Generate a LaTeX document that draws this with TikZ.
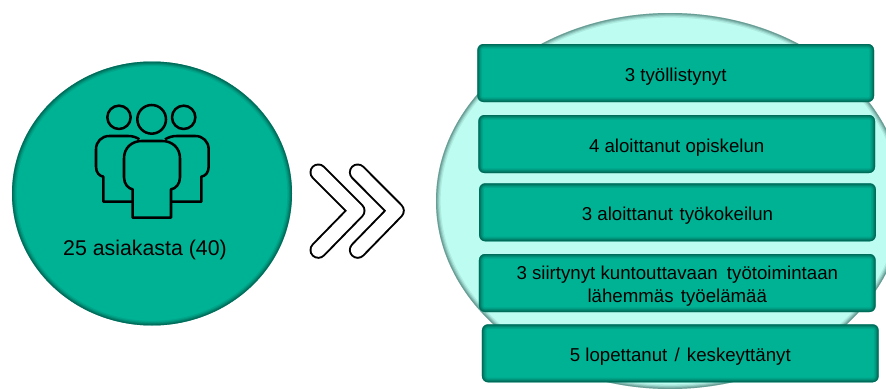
\documentclass[tikz,border=0pt]{standalone}
\usepackage{fontspec}
\setmainfont{Liberation Sans}
\usetikzlibrary{shapes.geometric}
\definecolor{teal1}{HTML}{00B294}
\definecolor{tealedge}{HTML}{004A3E}
\definecolor{mint}{HTML}{BDFCF0}
\definecolor{mintedge}{HTML}{3F6F68}
\newcommand{\lowtext}{\rule{0pt}{15.4pt}}
\tikzset{
  x=0.75pt,y=-0.75pt,
  glowrect/.style={path picture={
    \foreach \w/\o in {7/.12,5/.18,3.4/.25,1.8/.36}{
      \draw[#1,opacity=\o,line width=\w pt,rounded corners=4.5pt]
        (path picture bounding box.north west) rectangle (path picture bounding box.south east);}
  }},
  glowell/.style n args={3}{path picture={
    \foreach \w/\o in {7/.12,5/.18,3.4/.25,1.8/.36}{
      \draw[#1,opacity=\o,line width=\w pt]
        (path picture bounding box.center) ellipse [x radius=#2*0.75pt,y radius=#3*0.75pt];}
  }},
  stepbox/.style={rectangle,rounded corners=4.5pt,fill=teal1,draw=none,inner sep=0pt,outer sep=0pt,
    minimum width=297.5pt,minimum height=43.5pt,align=center,text=black,
    font=\fontsize{14pt}{17.3pt}\selectfont,glowrect=tealedge},
  iconline/.style={draw=black,line width=1.9pt,line join=round},
  chevout/.style={draw=black,line width=13.2pt,line cap=round,line join=round},
  chevin/.style={draw=white,line width=10.2pt,line cap=round,line join=round},
}
\begin{document}
\begin{tikzpicture}
\useasboundingbox (0,0) rectangle (886,389);
\clip (0,0) rectangle (886,389);
\fill[white] (0,0) rectangle (886,389);
% large pale circle
\node[ellipse,inner sep=0pt,outer sep=0pt,minimum width=351pt,minimum height=282pt,fill=mint,
  glowell={mintedge}{234}{188}] (pale) at (670,201) {};
% boxes
\node[stepbox] (b1) at (675.7,73) {\lowtext 3 työllistynyt};
\node[stepbox] (b2) at (676.7,144) {\lowtext 4 aloittanut opiskelun};
\node[stepbox] (b3) at (677.5,212.3) {\lowtext 3 aloittanut\hspace{1pt} työkokeilun};
\node[stepbox] (b4) at (677.3,283) {\lowtext 3 siirtynyt kuntouttavaan\hspace{3pt} työtoimintaan\\lähemmäs\hspace{1.5pt} työelämää};
\node[stepbox] (b5) at (680.3,353.3) {\lowtext 5 lopettanut\hspace{1.5pt} /\hspace{1.5pt} keskeyttänyt};
% left circle
\node[ellipse,inner sep=0pt,outer sep=0pt,minimum width=210pt,minimum height=198pt,fill=teal1,
  glowell={tealedge}{140}{132}] (main) at (152,193.5) {};
\node[text=black,font=\fontsize{16pt}{19pt}\selectfont,inner sep=0pt] (lab) at (145,250) {25 asiakasta (40)};
% people icon
\begin{scope}[shift={(0,60)},x=0.25pt,y=-0.25pt]
  \draw[iconline] (357,172) circle [radius=35];
  \draw[iconline] (455,178) circle [radius=43];
  \draw[iconline] (551,172) circle [radius=35];
  \draw[iconline] (398,425) -- (310,425) -- (310,350) .. controls (298,348) and (288,338) .. (288,320)
    -- (288,268) .. controls (288,245) and (305,228) .. (328,228) -- (385,228) .. controls (398,228) and (410,232) .. (418,238);
  \draw[iconline] (513,425) -- (604,425) -- (604,350) .. controls (616,348) and (626,338) .. (626,320)
    -- (626,268) .. controls (626,245) and (609,228) .. (586,228) -- (530,228) .. controls (517,228) and (505,232) .. (495,238);
  \draw[iconline] (398,473) -- (398,388) .. controls (385,386) and (372,372) .. (372,352) -- (372,295)
    .. controls (372,264) and (395,243) .. (425,243) -- (487,243) .. controls (517,243) and (540,264) .. (540,295)
    -- (540,352) .. controls (540,372) and (527,386) .. (513,388) -- (513,473) -- cycle;
\end{scope}
% chevrons
\draw[chevout] (318.3,172.3) -- (356.7,210.7) -- (318.3,250);
\draw[chevin] (318.3,172.3) -- (356.7,210.7) -- (318.3,250);
\draw[chevout] (357.7,172.3) -- (396,210.7) -- (357.7,250);
\draw[chevin] (357.7,172.3) -- (396,210.7) -- (357.7,250);
\end{tikzpicture}
\end{document}
